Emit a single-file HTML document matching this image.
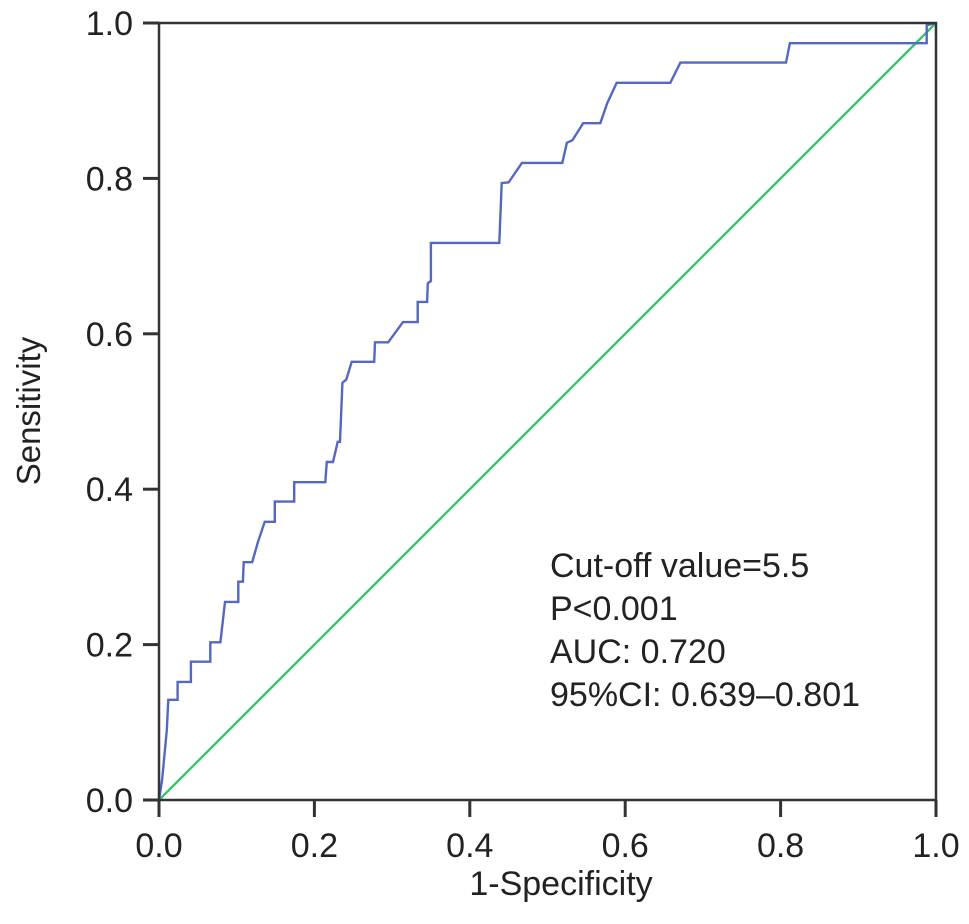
<!DOCTYPE html>
<html><head><meta charset="utf-8"><style>
body{margin:0;background:#fff;}
svg text{font-family:"Liberation Sans",Arial,sans-serif;fill:#222;}
</style></head><body>
<svg id="chart" width="969" height="919" xmlns="http://www.w3.org/2000/svg">
<g id="axes"></g>
<line id="diag" stroke="#3cc46a" stroke-width="2.4"/>
<path id="roc" fill="none" stroke="#5468c2" stroke-width="2.4"/>
<rect x="159" y="23" width="777" height="777" fill="none" stroke="#333" stroke-width="2.5"/>
<text x="561" y="895" font-size="34" text-anchor="middle">1-Specificity</text>
<text transform="translate(40,411) rotate(-90)" font-size="33" text-anchor="middle">Sensitivity</text>
<g font-size="34">
<text x="550" y="577">Cut-off value=5.5</text>
<text x="550" y="620">P&lt;0.001</text>
<text x="550" y="663">AUC: 0.720</text>
<text x="550" y="706">95%CI: 0.639–0.801</text>
</g>
</svg>
<script>
const fpr=[0,.004,.010,.012,.024,.024,.041,.041,.066,.066,.079,.082,.085,.102,.102,.108,.109,.120,.127,.136,.149,.149,.174,.174,.214,.216,.224,.230,.233,.236,.241,.248,.277,.278,.295,.314,.333,.333,.345,.346,.350,.350,.438,.441,.450,.467,.519,.525,.532,.546,.568,.577,.589,.658,.671,.807,.812,.988,.988,1];
const tpr=[0,.026,.090,.129,.129,.152,.152,.178,.178,.203,.203,.229,.255,.255,.281,.281,.306,.306,.331,.358,.358,.384,.384,.409,.409,.435,.435,.461,.461,.537,.541,.564,.564,.589,.589,.615,.615,.641,.641,.665,.668,.717,.717,.794,.795,.820,.820,.846,.849,.871,.871,.897,.923,.923,.949,.949,.974,.974,.997,1];
const ticks=[0,0.2,0.4,0.6,0.8,1.0];
const tickLabels=["0.0","0.2","0.4","0.6","0.8","1.0"];
const X0=159,Y0=800,W=777,H=777;
function sx(v){return X0+v*W;}
function sy(v){return Y0-v*H;}
const ns="http://www.w3.org/2000/svg";
const axes=document.getElementById('axes');
ticks.forEach((t,i)=>{
  let l=document.createElementNS(ns,'line');
  l.setAttribute('x1',sx(t));l.setAttribute('x2',sx(t));l.setAttribute('y1',Y0);l.setAttribute('y2',Y0+17);
  l.setAttribute('stroke','#333');l.setAttribute('stroke-width','3');
  
  
  axes.appendChild(l);
  let tx=document.createElementNS(ns,'text');
  tx.setAttribute('x',sx(t));tx.setAttribute('y',857);tx.setAttribute('font-size','34');tx.setAttribute('text-anchor','middle');
  tx.textContent=tickLabels[i];
  
  
  axes.appendChild(tx);
  let l2=document.createElementNS(ns,'line');
  l2.setAttribute('x1',X0-16);l2.setAttribute('x2',X0);l2.setAttribute('y1',sy(t));l2.setAttribute('y2',sy(t));
  l2.setAttribute('stroke','#333');l2.setAttribute('stroke-width','3');
  
  
  axes.appendChild(l2);
  let ty=document.createElementNS(ns,'text');
  ty.setAttribute('x',X0-26);ty.setAttribute('y',sy(t)+12);ty.setAttribute('font-size','34');ty.setAttribute('text-anchor','end');
  ty.textContent=tickLabels[i];
  
  
  axes.appendChild(ty);
});
const d=document.getElementById('diag');
d.setAttribute('x1',sx(0));d.setAttribute('y1',sy(0));d.setAttribute('x2',sx(1));d.setAttribute('y2',sy(1));
document.getElementById('roc').setAttribute('d',fpr.map((v,i)=>(i?'L':'M')+sx(v).toFixed(1)+' '+sy(tpr[i]).toFixed(1)).join(' '));
</script>
</body></html>
